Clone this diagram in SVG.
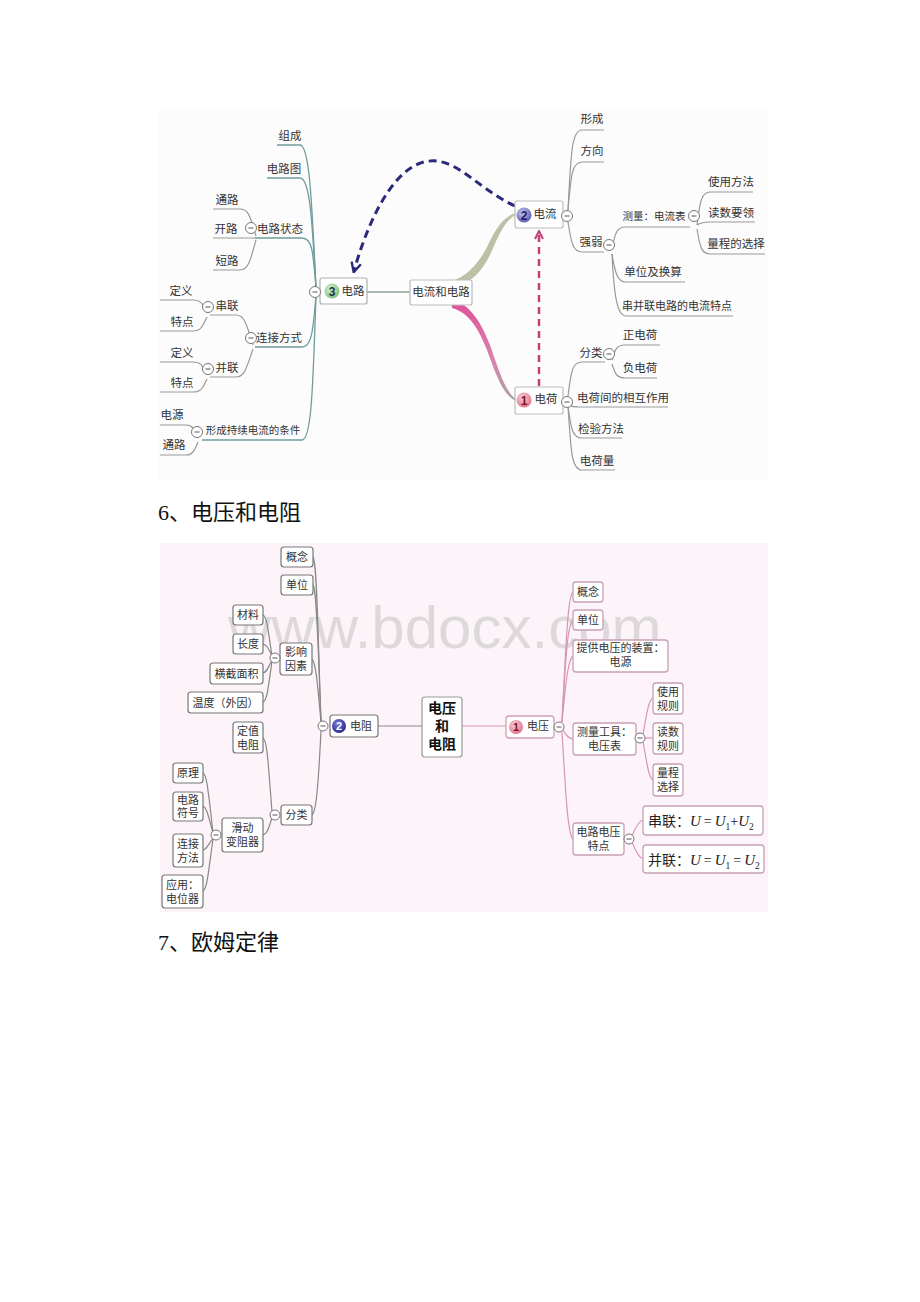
<svg xmlns="http://www.w3.org/2000/svg" width="920" height="1302" viewBox="0 0 920 1302">
<defs>
<style>
.t{font-family:"Noto Sans CJK SC","Noto Sans",sans-serif;font-size:11.5px;fill:#333;text-anchor:middle}
.s{font-family:"Noto Sans CJK SC","Noto Sans",sans-serif;font-size:11px;fill:#333;text-anchor:middle}
.h{font-family:"Liberation Serif","Noto Sans CJK SC",serif;font-size:22px;fill:#111}
.f{font-family:"Liberation Serif",serif;font-size:14px}
.fi{font-family:"Liberation Serif",serif;font-size:15px;font-style:italic}
.fs{font-family:"Liberation Serif",serif;font-size:9.5px}
.mn{fill:none;stroke:#6f9c9c;stroke-width:1.3}
.ln{fill:none;stroke:#999;stroke-width:1.2}
.lg{fill:none;stroke:#888;stroke-width:1.2}
.lp{fill:none;stroke:#d795b3;stroke-width:1.2}
.bx{fill:#fff;stroke:#777;stroke-width:1.2}
.bp{fill:#fff;stroke:#c8a0b4;stroke-width:1.3}
.m circle{fill:#fff;stroke:#777;stroke-width:1}
.m line{stroke:#555;stroke-width:1}
</style>
<marker id="ab" viewBox="0 0 10 10" refX="8" refY="5" markerWidth="4" markerHeight="4" orient="auto"><path d="M1,1 L9,5 L1,9" fill="none" stroke="#2a2a7a" stroke-width="2"/></marker>
<marker id="ap" viewBox="0 0 10 10" refX="8" refY="5" markerWidth="4" markerHeight="4" orient="auto"><path d="M1,1 L9,5 L1,9" fill="none" stroke="#c0407a" stroke-width="2"/></marker>
<linearGradient id="pg" x1="0" y1="0" x2="0" y2="1"><stop offset="0" stop-color="#e0509a"/><stop offset="0.6" stop-color="#d884ae"/><stop offset="1" stop-color="#a9a0a4"/></linearGradient>
<radialGradient id="c3" cx="0.4" cy="0.35" r="0.7"><stop offset="0" stop-color="#d6f0d0"/><stop offset="1" stop-color="#7cbf7c"/></radialGradient>
<radialGradient id="c2" cx="0.4" cy="0.35" r="0.7"><stop offset="0" stop-color="#c8c8f0"/><stop offset="1" stop-color="#5858b0"/></radialGradient>
<radialGradient id="c1" cx="0.4" cy="0.35" r="0.7"><stop offset="0" stop-color="#fbd0d8"/><stop offset="1" stop-color="#de6f86"/></radialGradient>
<radialGradient id="d2" cx="0.4" cy="0.35" r="0.7"><stop offset="0" stop-color="#7a7ae0"/><stop offset="1" stop-color="#24248a"/></radialGradient>
</defs>
<rect width="920" height="1302" fill="#fff"/>

<!-- ============ TOP DIAGRAM ============ -->
<rect x="158" y="110" width="609" height="370" fill="#fdfcfd"/>

<g id="connectors-top">
  <path class="mn" d="M316,287 C312,210 310,145 300,145 L277,145"/>
  <path class="mn" d="M316,287 C312,220 310,178 300,178 L267,178"/>
  <path class="mn" d="M316,288 C313,250 312,238 302,238 L255,238"/>
  <path class="mn" d="M316,296 C313,330 312,347 302,347 L255,347"/>
  <path class="mn" d="M316,296 C313,380 312,440 302,440 L202,440"/>
  <path class="ln" d="M256,236 C250,215 248,209 240,209 L213,209"/>
  <path class="ln" d="M256,238 L213,238"/>
  <path class="ln" d="M256,240 C250,262 248,270 240,270 L213,270"/>
  <path class="ln" d="M253,345 C246,322 244,315 236,315 L210,315"/>
  <path class="ln" d="M253,349 C246,370 244,377 236,377 L210,377"/>
  <path class="ln" d="M207,313 C202,302 200,300 193,300 L160,300"/>
  <path class="ln" d="M207,317 C202,328 200,331 193,331 L160,331"/>
  <path class="ln" d="M207,375 C202,364 200,362 193,362 L160,362"/>
  <path class="ln" d="M207,379 C202,390 200,392 193,392 L160,392"/>
  <path class="ln" d="M198,438 C194,428 192,425 186,425 L160,425"/>
  <path class="ln" d="M198,442 C194,452 192,455 186,455 L160,455"/>
  <path class="ln" d="M568,210 C571,150 572,130 582,130 L604,130"/>
  <path class="ln" d="M568,210 C571,175 572,162 582,162 L604,162"/>
  <path class="ln" d="M568,222 C571,240 572,252 582,252 L604,252"/>
  <path class="ln" d="M612,250 C615,232 617,227 626,227 L690,227"/>
  <path class="ln" d="M612,254 C615,272 617,282 626,282 L685,282"/>
  <path class="ln" d="M612,254 C614,295 617,316 626,316 L733,316"/>
  <path class="ln" d="M697,225 C700,200 702,192 710,192 L753,192"/>
  <path class="ln" d="M697,225 C700,223 702,222 710,222 L755,222"/>
  <path class="ln" d="M697,229 C700,248 702,254 710,254 L765,254"/>
  <path class="ln" d="M568,396 C571,372 572,362 582,362 L605,362"/>
  <path class="ln" d="M568,404 C571,406 572,407 580,407 L668,407"/>
  <path class="ln" d="M568,406 C571,428 572,438 582,438 L622,438"/>
  <path class="ln" d="M568,406 C571,455 572,470 582,470 L615,470"/>
  <path class="ln" d="M612,360 C615,349 617,345 625,345 L660,345"/>
  <path class="ln" d="M612,364 C615,374 617,378 625,378 L657,378"/>
  <path d="M367,292 L410,292" stroke="#8aa39a" stroke-width="1.5" fill="none"/>
  <path d="M452,281 C468,276 480,262 489,243 C497,226 505,216 516,213 L516,215 C507,219 501,230 494,246 C486,266 474,282 458,286 Z" fill="#bcc0a6"/>
  <path d="M452,300 C472,305 482,325 490,345 C498,368 505,392 516,399 L516,401 C503,396 495,372 487,350 C479,330 470,313 452,308 Z" fill="url(#pg)"/>
  <path d="M515,206 C472,186 452,150 418,164 C388,177 366,228 354,271" fill="none" stroke="#2a2a7a" stroke-width="3" stroke-dasharray="8,5" marker-end="url(#ab)"/>
  <path d="M539,386 L539,232" fill="none" stroke="#c0407a" stroke-width="2.5" stroke-dasharray="7,5" marker-end="url(#ap)"/>
</g>

<g id="n-dianlu">
  <rect x="320" y="278" width="47" height="26" rx="2" fill="#fff" stroke="#a8b0ad" stroke-width="1.2"/>
  <circle cx="332" cy="291" r="7.5" fill="url(#c3)"/>
  <text x="332" y="295.5" style="font-family:'Liberation Sans',sans-serif;font-size:12px;font-weight:bold;fill:#234;text-anchor:middle">3</text>
  <text class="t" x="353" y="295">电路</text>
  <g class="m"><circle cx="315" cy="292" r="5.5"/><line x1="312.5" y1="292" x2="317.5" y2="292"/></g>
</g>
<g id="n-center-top">
  <rect x="410" y="280" width="62" height="25" rx="2" fill="#fff" stroke="#bbb" stroke-width="1.2"/>
  <text class="t" x="441" y="296">电流和电路</text>
</g>
<g id="n-dianliu">
  <rect x="515" y="201" width="48" height="27" rx="2" fill="#fff" stroke="#bbb" stroke-width="1.2"/>
  <circle cx="524" cy="215" r="7.5" fill="url(#c2)"/>
  <text x="524" y="219.5" style="font-family:'Liberation Sans',sans-serif;font-size:12px;font-weight:bold;fill:#1a1a60;text-anchor:middle">2</text>
  <text class="t" x="545" y="218">电流</text>
  <g class="m"><circle cx="567" cy="216" r="5.5"/><line x1="564.5" y1="216" x2="569.5" y2="216"/></g>
</g>
<g id="n-dianhe">
  <rect x="515" y="387" width="48" height="27" rx="2" fill="#fff" stroke="#bbb" stroke-width="1.2"/>
  <circle cx="524" cy="400" r="7.5" fill="url(#c1)"/>
  <text x="524" y="404.5" style="font-family:'Liberation Sans',sans-serif;font-size:12px;font-weight:bold;fill:#801020;text-anchor:middle">1</text>
  <text class="t" x="546" y="403">电荷</text>
  <g class="m"><circle cx="567" cy="402" r="5.5"/><line x1="564.5" y1="402" x2="569.5" y2="402"/></g>
</g>

<g id="n-top-left-labels">
  <text class="t" x="290" y="140">组成</text>
  <text class="t" x="284" y="173">电路图</text>
  <text class="t" x="280" y="233">电路状态</text>
  <g class="m"><circle cx="251" cy="228" r="5.5"/><line x1="248.5" y1="228" x2="253.5" y2="228"/></g>
  <text class="t" x="227" y="204">通路</text>
  <text class="t" x="226" y="233">开路</text>
  <text class="t" x="227" y="265">短路</text>
  <text class="t" x="279" y="342">连接方式</text>
  <g class="m"><circle cx="251" cy="338" r="5.5"/><line x1="248.5" y1="338" x2="253.5" y2="338"/></g>
  <text class="t" x="227" y="310">串联</text>
  <g class="m"><circle cx="208" cy="307" r="5.5"/><line x1="205.5" y1="307" x2="210.5" y2="307"/></g>
  <text class="t" x="227" y="372">并联</text>
  <g class="m"><circle cx="208" cy="369" r="5.5"/><line x1="205.5" y1="369" x2="210.5" y2="369"/></g>
  <text class="t" x="181" y="295">定义</text>
  <text class="t" x="182" y="326">特点</text>
  <text class="t" x="182" y="357">定义</text>
  <text class="t" x="182" y="387">特点</text>
  <text class="t" x="253" y="434" style="font-size:10.5px">形成持续电流的条件</text>
  <g class="m"><circle cx="197" cy="432" r="5.5"/><line x1="194.5" y1="432" x2="199.5" y2="432"/></g>
  <text class="t" x="172" y="419">电源</text>
  <text class="t" x="174" y="449">通路</text>
</g>
<g id="n-top-right-labels">
  <text class="t" x="592" y="123">形成</text>
  <text class="t" x="592" y="155">方向</text>
  <text class="t" x="591" y="246">强弱</text>
  <g class="m"><circle cx="609" cy="245" r="5.5"/><line x1="606.5" y1="245" x2="611.5" y2="245"/></g>
  <text class="t" x="654" y="220" style="font-size:10.5px">测量：电流表</text>
  <g class="m"><circle cx="694" cy="216" r="5.5"/><line x1="691.5" y1="216" x2="696.5" y2="216"/></g>
  <text class="t" x="731" y="186">使用方法</text>
  <text class="t" x="731" y="217">读数要领</text>
  <text class="t" x="736" y="248">量程的选择</text>
  <text class="t" x="653" y="276">单位及换算</text>
  <text class="t" x="677" y="310" style="font-size:11px">串并联电路的电流特点</text>
  <text class="t" x="591" y="357">分类</text>
  <g class="m"><circle cx="609" cy="354" r="5.5"/><line x1="606.5" y1="354" x2="611.5" y2="354"/></g>
  <text class="t" x="640" y="339">正电荷</text>
  <text class="t" x="640" y="372">负电荷</text>
  <text class="t" x="623" y="402">电荷间的相互作用</text>
  <text class="t" x="601" y="433">检验方法</text>
  <text class="t" x="597" y="465">电荷量</text>
</g>

<text class="h" x="158" y="520">6、电压和电阻</text>

<!-- ============ BOTTOM DIAGRAM ============ -->
<rect x="160" y="543" width="608" height="369" fill="#fdf4fa"/>
<text x="228" y="648" style="font-family:'Liberation Sans',sans-serif;font-size:60px;fill:#c8c8c8;opacity:0.6">www.bdocx.com</text>

<g id="connectors-bottom">
  <path class="lg" d="M321,721 C318,640 317,560 313,557"/>
  <path class="lg" d="M321,721 C318,650 317,588 313,585"/>
  <path class="lg" d="M321,722 C318,690 316,662 312,659"/>
  <path class="lg" d="M321,731 C318,790 316,812 312,815"/>
  <path class="lg" d="M272,656 C268,630 267,617 263,615"/>
  <path class="lg" d="M272,656 C268,648 267,645 263,644"/>
  <path class="lg" d="M272,660 C268,668 267,672 263,673"/>
  <path class="lg" d="M272,661 C268,690 267,700 263,702"/>
  <path class="lg" d="M272,812 C268,760 267,740 263,738"/>
  <path class="lg" d="M272,818 C268,830 267,834 263,835"/>
  <path class="lg" d="M213,832 C208,790 207,775 203,773"/>
  <path class="lg" d="M213,833 C208,815 207,808 203,806"/>
  <path class="lg" d="M213,838 C208,845 207,849 203,850"/>
  <path class="lg" d="M213,839 C208,875 207,889 203,891"/>
  <path class="lg" d="M378,726 L422,726"/>
  <path class="lp" d="M462,726 L506,726"/>
  <path class="lp" d="M562,722 C566,640 568,595 573,592"/>
  <path class="lp" d="M562,722 C566,650 568,623 573,620"/>
  <path class="lp" d="M562,722 C566,680 568,660 573,656"/>
  <path class="lp" d="M563,730 C566,735 568,738 573,739"/>
  <path class="lp" d="M562,732 C566,800 568,835 573,839"/>
  <path class="lp" d="M643,735 C647,710 649,700 653,698"/>
  <path class="lp" d="M644,738 L653,738"/>
  <path class="lp" d="M643,741 C647,765 649,778 653,780"/>
  <path class="lp" d="M632,836 C636,826 639,821 643,820"/>
  <path class="lp" d="M632,842 C636,852 639,858 643,859"/>
</g>

<g id="b-center">
  <rect x="422" y="697" width="40" height="60" rx="3" fill="#fff" stroke="#999" stroke-width="1.2"/>
  <text class="t" x="442" y="713" style="font-size:14px;font-weight:bold;fill:#111">电压</text>
  <text class="t" x="442" y="731" style="font-size:14px;font-weight:bold;fill:#111">和</text>
  <text class="t" x="442" y="749" style="font-size:14px;font-weight:bold;fill:#111">电阻</text>
</g>
<g id="b-dianzu">
  <rect x="330" y="715" width="48" height="22" rx="3" class="bx"/>
  <circle cx="339" cy="726" r="7" fill="url(#d2)"/>
  <text x="339" y="730" style="font-family:'Liberation Sans',sans-serif;font-size:11px;font-weight:bold;fill:#fff;text-anchor:middle">2</text>
  <text class="s" x="361" y="730">电阻</text>
  <g class="m"><circle cx="323" cy="726" r="5"/><line x1="320.5" y1="726" x2="325.5" y2="726"/></g>
</g>
<g id="b-dianya">
  <rect x="506" y="716" width="48" height="22" rx="3" fill="#fff" stroke="#d0a0b6" stroke-width="1.3"/>
  <circle cx="516" cy="727" r="7" fill="url(#c1)"/>
  <text x="516" y="731" style="font-family:'Liberation Sans',sans-serif;font-size:11px;font-weight:bold;fill:#801020;text-anchor:middle">1</text>
  <text class="s" x="538" y="730">电压</text>
  <g class="m"><circle cx="559" cy="727" r="5"/><line x1="556.5" y1="727" x2="561.5" y2="727"/></g>
</g>

<g id="b-left">
  <g id="bl-gainian"><rect class="bx" x="281" y="547" width="32" height="20" rx="3"/><text class="s" x="297" y="561">概念</text></g>
  <g id="bl-danwei"><rect class="bx" x="281" y="575" width="32" height="20" rx="3"/><text class="s" x="297" y="589">单位</text></g>
  <g id="bl-yingxiang"><rect class="bx" x="280" y="643" width="32" height="32" rx="3"/><text class="s" x="296" y="656">影响</text><text class="s" x="296" y="670">因素</text>
    <g class="m"><circle cx="275" cy="658" r="5"/><line x1="272.5" y1="658" x2="277.5" y2="658"/></g></g>
  <g id="bl-cailiao"><rect class="bx" x="233" y="605" width="30" height="20" rx="3"/><text class="s" x="248" y="619">材料</text></g>
  <g id="bl-changdu"><rect class="bx" x="233" y="634" width="30" height="20" rx="3"/><text class="s" x="248" y="648">长度</text></g>
  <g id="bl-hengjie"><rect class="bx" x="210" y="663" width="53" height="21" rx="3"/><text class="s" x="236.5" y="677.5">横截面积</text></g>
  <g id="bl-wendu"><rect class="bx" x="188" y="692" width="75" height="21" rx="3"/><text class="s" x="225.5" y="706.5">温度（外因）</text></g>
  <g id="bl-dingzhi"><rect class="bx" x="233" y="722" width="30" height="31" rx="3"/><text class="s" x="248" y="735">定值</text><text class="s" x="248" y="749">电阻</text></g>
  <g id="bl-fenlei"><rect class="bx" x="281" y="805" width="31" height="20" rx="3"/><text class="s" x="296.5" y="819">分类</text>
    <g class="m"><circle cx="275" cy="815" r="5"/><line x1="272.5" y1="815" x2="277.5" y2="815"/></g></g>
  <g id="bl-huadong"><rect class="bx" x="222" y="818" width="41" height="34" rx="3"/><text class="s" x="242.5" y="832">滑动</text><text class="s" x="242.5" y="846">变阻器</text>
    <g class="m"><circle cx="216" cy="835" r="5"/><line x1="213.5" y1="835" x2="218.5" y2="835"/></g></g>
  <g id="bl-yuanli"><rect class="bx" x="173" y="763" width="30" height="20" rx="3"/><text class="s" x="188" y="777">原理</text></g>
  <g id="bl-fuhao"><rect class="bx" x="173" y="792" width="30" height="29" rx="3"/><text class="s" x="188" y="804">电路</text><text class="s" x="188" y="817">符号</text></g>
  <g id="bl-lianjie"><rect class="bx" x="173" y="834" width="30" height="33" rx="3"/><text class="s" x="188" y="848">连接</text><text class="s" x="188" y="862">方法</text></g>
  <g id="bl-yingyong"><rect class="bx" x="162" y="875" width="41" height="33" rx="3"/><text class="s" x="182.5" y="889">应用：</text><text class="s" x="182.5" y="903">电位器</text></g>
</g>

<g id="b-right">
  <g id="br-gainian"><rect class="bp" x="573" y="582" width="30" height="20" rx="3"/><text class="s" x="588" y="596">概念</text></g>
  <g id="br-danwei"><rect class="bp" x="573" y="610" width="30" height="20" rx="3"/><text class="s" x="588" y="624">单位</text></g>
  <g id="br-tigong"><rect class="bp" x="573" y="640" width="95" height="32" rx="3"/><text class="s" x="620.5" y="652">提供电压的装置：</text><text class="s" x="620.5" y="666">电源</text></g>
  <g id="br-celiang"><rect class="bp" x="573" y="723" width="63" height="32" rx="3"/><text class="s" x="604.5" y="736">测量工具：</text><text class="s" x="604.5" y="750">电压表</text>
    <g class="m"><circle cx="640" cy="738" r="5"/><line x1="637.5" y1="738" x2="642.5" y2="738"/></g></g>
  <g id="br-shiyong"><rect class="bp" x="653" y="683" width="30" height="31" rx="3"/><text class="s" x="668" y="696">使用</text><text class="s" x="668" y="710">规则</text></g>
  <g id="br-dushu"><rect class="bp" x="653" y="723" width="30" height="31" rx="3"/><text class="s" x="668" y="736">读数</text><text class="s" x="668" y="750">规则</text></g>
  <g id="br-liangcheng"><rect class="bp" x="653" y="764" width="30" height="32" rx="3"/><text class="s" x="668" y="777">量程</text><text class="s" x="668" y="791">选择</text></g>
  <g id="br-tedian"><rect class="bp" x="573" y="823" width="51" height="32" rx="3"/><text class="s" x="598.5" y="836">电路电压</text><text class="s" x="598.5" y="850">特点</text>
    <g class="m"><circle cx="629" cy="839" r="5"/><line x1="626.5" y1="839" x2="631.5" y2="839"/></g></g>
  <g id="br-chuanlian"><rect class="bp" x="643" y="806" width="120" height="29" rx="3"/>
    <text x="648" y="826" style="font-family:'Noto Sans CJK SC',sans-serif;font-size:14px;fill:#222">串联：<tspan class="fi">U</tspan><tspan class="f" dx="3">=</tspan><tspan class="fi" dx="3">U</tspan><tspan class="fs" dy="4">1</tspan><tspan class="f" dy="-4">+</tspan><tspan class="fi">U</tspan><tspan class="fs" dy="4">2</tspan></text></g>
  <g id="br-binglian"><rect class="bp" x="643" y="845" width="121" height="28" rx="3"/>
    <text x="648" y="865" style="font-family:'Noto Sans CJK SC',sans-serif;font-size:14px;fill:#222">并联：<tspan class="fi">U</tspan><tspan class="f" dx="3">=</tspan><tspan class="fi" dx="3">U</tspan><tspan class="fs" dy="4">1</tspan><tspan class="f" dy="-4" dx="3">=</tspan><tspan class="fi" dx="3">U</tspan><tspan class="fs" dy="4">2</tspan></text></g>
</g>

<text class="h" x="158" y="950">7、欧姆定律</text>
</svg>
